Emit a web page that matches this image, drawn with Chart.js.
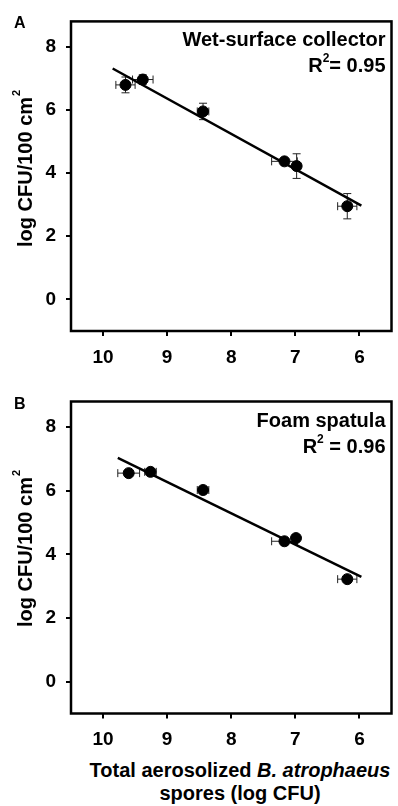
<!DOCTYPE html>
<html>
<head>
<meta charset="utf-8">
<title>Wet-surface collector vs foam spatula</title>
<script src="https://cdn.jsdelivr.net/npm/chart.js@4.4.1/dist/chart.umd.min.js"></script>
<style>
  body { margin: 0; background: #fff; width: 398px; height: 806px; position: relative; overflow: hidden; }
  .panel { position: absolute; left: 0; width: 398px; height: 370px; }
  #panelA { top: 0; }
  #panelB { top: 380px; }
  #xTitle {
    position: absolute; left: 240px; top: 758.5px; transform: translateX(-50%);
    white-space: nowrap; text-align: center;
    font: bold 20px "Liberation Sans", Arial, sans-serif; line-height: 23px; color: #000;
  }
</style>
</head>
<body>
<div class="panel" id="panelA"><canvas id="chartA" width="398" height="370"></canvas></div>
<div class="panel" id="panelB"><canvas id="chartB" width="398" height="370"></canvas></div>
<div id="xTitle">Total aerosolized <i>B. atrophaeus</i><br>spores (log CFU)</div>
<script>
const xTickValues = [10, 9, 8, 7, 6];
const yTickValues = [0, 2, 4, 6, 8];

// panel A - wet-surface collector
const wetX = [9.65, 9.38, 8.44, 7.17, 6.98, 6.19];
const wetY = [6.79, 6.96, 5.95, 4.37, 4.22, 2.95];
const wetXErr = [0.15, 0.16, 0.09, 0.2, 0.05, 0.15];
const wetYErr = [0.25, 0.15, 0.26, 0.08, 0.39, 0.4];
const wetFitX = [9.85, 5.97];
const wetFitY = [7.31, 2.97];

// panel B - foam spatula
const foamX = [9.6, 9.26, 8.44, 7.17, 6.99, 6.19];
const foamY = [6.55, 6.59, 6.02, 4.41, 4.51, 3.22];
const foamXErr = [0.17, 0.09, 0.09, 0.2, 0.05, 0.15];
const foamYErr = [0.08, 0.08, 0.08, 0.08, 0.1, 0.08];
const foamFitX = [9.77, 5.97];
const foamFitY = [7.03, 3.29];

const FONT = '"Liberation Sans", Arial, sans-serif';
Chart.defaults.font.family = FONT;
Chart.defaults.color = "#000";

// error bars under the points
const errorBars = {
  id: "errorBars",
  beforeDatasetsDraw(chart) {
    const { ctx, scales: { x, y } } = chart;
    const cap = 4;
    ctx.save();
    ctx.strokeStyle = "#222";
    ctx.lineWidth = 1;
    chart.data.datasets[0].data.forEach((p) => {
      const px = x.getPixelForValue(p.x);
      const py = y.getPixelForValue(p.y);
      const xl = x.getPixelForValue(p.x - p.xErr);
      const xr = x.getPixelForValue(p.x + p.xErr);
      const yt = y.getPixelForValue(p.y + p.yErr);
      const yb = y.getPixelForValue(p.y - p.yErr);
      ctx.beginPath();
      ctx.moveTo(xl, py); ctx.lineTo(xr, py);
      ctx.moveTo(xl, py - cap); ctx.lineTo(xl, py + cap);
      ctx.moveTo(xr, py - cap); ctx.lineTo(xr, py + cap);
      ctx.moveTo(px, yt); ctx.lineTo(px, yb);
      ctx.moveTo(px - cap, yt); ctx.lineTo(px + cap, yt);
      ctx.moveTo(px - cap, yb); ctx.lineTo(px + cap, yb);
      ctx.stroke();
    });
    ctx.restore();
  },
};

// box, panel letter, labels and y title
const panelText = {
  id: "panelText",
  afterDraw(chart, args, opts) {
    const { ctx, chartArea: a } = chart;
    ctx.save();
    ctx.strokeStyle = "#000";
    ctx.lineWidth = 2.5;
    ctx.strokeRect(a.left, a.top, a.right - a.left, a.bottom - a.top);

    ctx.fillStyle = "#000";
    ctx.textBaseline = "alphabetic";
    ctx.font = `bold 16px ${FONT}`;
    ctx.textAlign = "left";
    ctx.fillText(opts.letter, 14, a.top + 7);

    const rightX = a.right - 6;
    ctx.font = `bold 20px ${FONT}`;
    ctx.textAlign = "right";
    ctx.fillText(opts.name, rightX, a.top + 25);

    // R² line
    const base = a.top + 51;
    ctx.font = `bold 20px ${FONT}`;
    const restW = ctx.measureText(opts.r2).width;
    ctx.fillText(opts.r2, rightX, base);
    ctx.font = `bold 12px ${FONT}`;
    const supW = ctx.measureText("2").width;
    ctx.fillText("2", rightX - restW, base - 10);
    ctx.font = `bold 20px ${FONT}`;
    ctx.fillText("R", rightX - restW - supW, base);

    // y title
    ctx.translate(32, a.top + 147.5);
    ctx.rotate(-Math.PI / 2);
    ctx.textAlign = "left";
    ctx.font = `bold 20px ${FONT}`;
    const main = "log CFU/100 cm";
    const mainW = ctx.measureText(main).width;
    ctx.font = `bold 11px ${FONT}`;
    const sW = ctx.measureText("2").width;
    const start = -(mainW + sW) / 2;
    ctx.fillText("2", start + mainW + 1, -12);
    ctx.font = `bold 20px ${FONT}`;
    ctx.fillText(main, start, 0);
    ctx.restore();
  },
};

const makePanel = (id, letter, name, r2, xs, ys, xErr, yErr, fitX, fitY, topPad, xAxisH) => {
  const points = xs.map((x, i) => ({ x, y: ys[i], xErr: xErr[i], yErr: yErr[i] }));
  const fit = fitX.map((x, i) => ({ x, y: fitY[i] }));
  const config = {
    type: "scatter",
    data: {
      datasets: [
        {
          data: points,
          backgroundColor: "#000",
          borderColor: "#000",
          pointRadius: 5.5,
          pointHoverRadius: 5.5,
        },
        {
          data: fit,
          showLine: true,
          borderColor: "#000",
          borderWidth: 2.5,
          pointRadius: 0,
        },
      ],
    },
    options: {
      responsive: false,
      animation: false,
      events: [],
      layout: { padding: { top: topPad, right: 2, left: 0, bottom: 0 } },
      plugins: {
        legend: { display: false },
        tooltip: { enabled: false },
        panelText: { letter, name, r2 },
      },
      scales: {
        x: {
          type: "linear",
          reverse: true,
          min: 5.5,
          max: 10.5,
          afterBuildTicks: (axis) => {
            axis.ticks = xTickValues.map((v) => ({ value: v }));
          },
          afterFit: (axis) => {
            axis.height = xAxisH;
          },
          border: { display: false },
          grid: { drawOnChartArea: false, drawTicks: true, tickLength: 5, color: "#000", lineWidth: 2 },
          ticks: { padding: 10, font: { size: 19, weight: "bold" }, color: "#000", maxRotation: 0 },
        },
        y: {
          type: "linear",
          min: -1,
          max: 8.8,
          afterBuildTicks: (axis) => {
            axis.ticks = yTickValues.map((v) => ({ value: v }));
          },
          afterFit: (axis) => {
            axis.width = 71;
          },
          border: { display: false },
          grid: { drawOnChartArea: false, drawTicks: true, tickLength: 5, color: "#000", lineWidth: 2 },
          ticks: { padding: 10, font: { size: 19, weight: "bold" }, color: "#000" },
        },
      },
    },
    plugins: [errorBars, panelText],
  };
  return new Chart(document.getElementById(id).getContext("2d"), config);
};

makePanel("chartA", "A", "Wet-surface collector", "= 0.95",
  wetX, wetY, wetXErr, wetYErr, wetFitX, wetFitY, 21, 39);
makePanel("chartB", "B", "Foam spatula", " = 0.96",
  foamX, foamY, foamXErr, foamYErr, foamFitX, foamFitY, 21.5, 36.5);
</script>
</body>
</html>
